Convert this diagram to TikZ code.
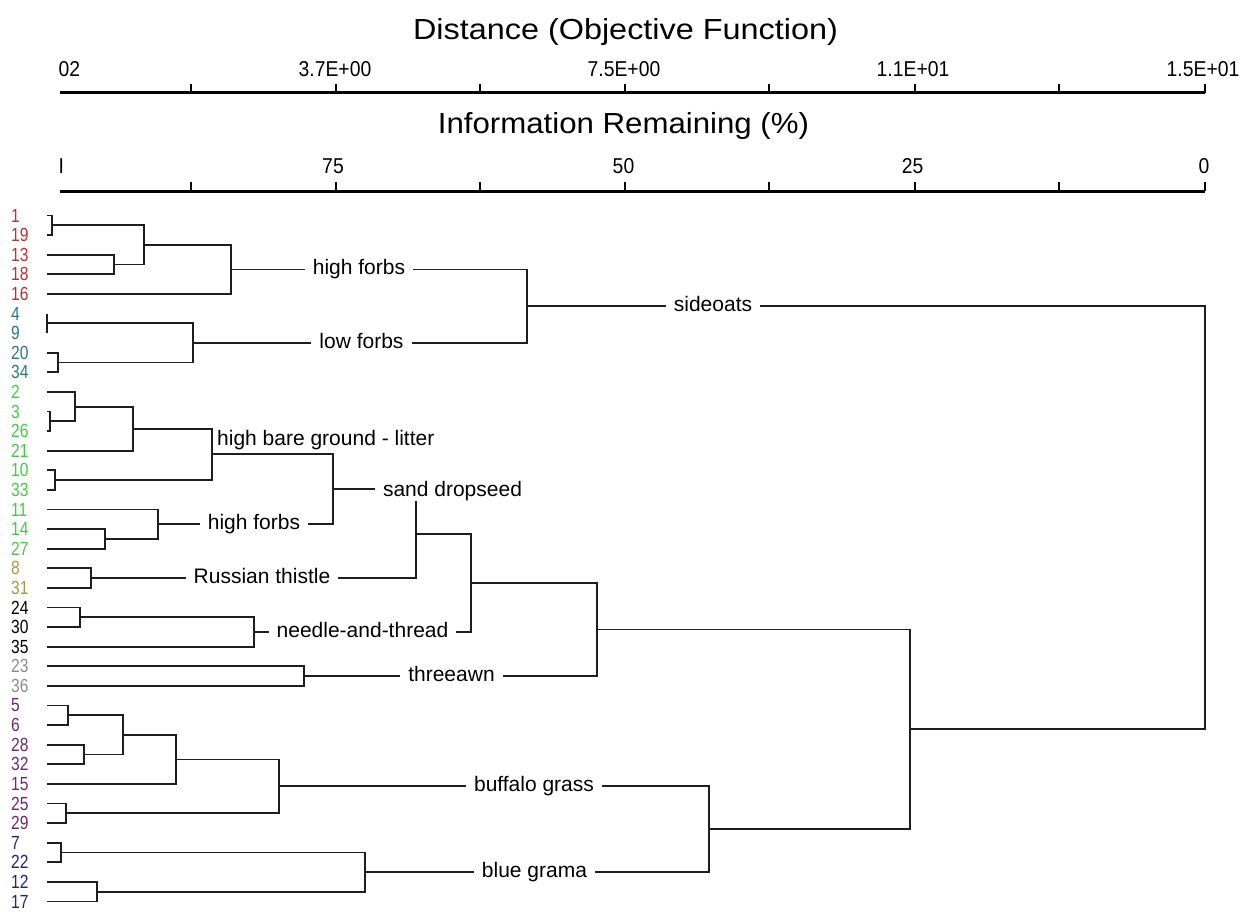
\documentclass[tikz,border=0pt]{standalone}
\usepackage{fontspec}
\setmainfont{Liberation Sans}
\newfontfamily\titleA[FakeStretch=1.117]{Liberation Sans}
\newfontfamily\titleB[FakeStretch=1.076]{Liberation Sans}
\newfontfamily\axfont[FakeStretch=0.9]{Liberation Sans}
\newfontfamily\leaffont[FakeStretch=0.82]{Liberation Sans}
\usetikzlibrary{calc}
\definecolor{redc}{RGB}{180,50,50}
\definecolor{tealc}{RGB}{40,120,130}
\definecolor{greenc}{RGB}{70,200,70}
\definecolor{olivec}{RGB}{170,150,70}
\definecolor{greyc}{RGB}{140,140,140}
\definecolor{purplec}{RGB}{110,40,110}
\definecolor{navyc}{RGB}{35,35,120}
\definecolor{linec}{RGB}{30,30,30}
\tikzset{
  br/.style={line width=1.8pt, draw=linec},
  axisline/.style={line width=3pt, draw=black},
  axtick/.style={line width=2.5pt, draw=black},
  grp/.style={fill=white, inner xsep=8pt, inner ysep=0pt, text height=15pt, text depth=4.5pt, font=\fontsize{21}{25}\selectfont, text=black},
  grpplain/.style={inner sep=0pt, font=\fontsize{21}{25}\selectfont, text=black},
  leaflab/.style={anchor=west, inner sep=0pt, font=\leaffont\fontsize{19}{20}\selectfont},
  axlab/.style={anchor=base, inner sep=0pt, font=\axfont\fontsize{21.5}{24}\selectfont},
}
\newcommand{\mergeAt}[4]{%
  \coordinate (tmp) at ($(#3)!0.5!(#4)$);
  \coordinate (#1) at (#2,0 |- tmp);
  \draw[br] (#3) -| (#1) |- (#4);}
\begin{document}
\begin{tikzpicture}[x=1pt,y=-1pt]
\useasboundingbox (0,0) rectangle (1249,912);
% titles
\node[anchor=base, inner sep=0pt, font=\titleA\fontsize{29}{32}\selectfont] (t1) at (625.5,40) {Distance (Objective Function)};
\node[anchor=base, inner sep=0pt, font=\titleB\fontsize{29}{32}\selectfont] (t2) at (623.5,134) {Information Remaining (\%)};
% axes
\draw[axisline] (60,93) -- (1205,93);
\draw[axisline] (60,191) -- (1205,191);
\foreach \x in {191,336,480,625,769,915,1059,1205}{
  \draw[axtick] (\x,93) -- (\x,84);
  \draw[axtick] (\x,191) -- (\x,182);
}
\node[axlab, anchor=base west] (a0) at (58.5,77) {02};
\node[axlab] (a1) at (335,77) {3.7E+00};
\node[axlab] (a2) at (624,77) {7.5E+00};
\node[axlab] (a3) at (913,77) {1.1E+01};
\node[axlab] (a4) at (1203,77) {1.5E+01};
\node[axlab, anchor=base west] (b0) at (58.5,174) {I};
\node[axlab] (b1) at (333,174) {75};
\node[axlab] (b2) at (623.5,174) {50};
\node[axlab] (b3) at (912.5,174) {25};
\node[axlab] (b4) at (1204,174) {0};
% leaves
\foreach \lab/\col [count=\i] in {1/redc,19/redc,13/redc,18/redc,16/redc,4/tealc,9/tealc,20/tealc,34/tealc,2/greenc,3/greenc,26/greenc,21/greenc,10/greenc,33/greenc,11/greenc,14/greenc,27/greenc,8/olivec,31/olivec,24/black,30/black,35/black,23/greyc,36/greyc,5/purplec,6/purplec,28/purplec,32/purplec,15/purplec,25/purplec,29/purplec,7/navyc,22/navyc,12/navyc,17/navyc}{
  \pgfmathsetmacro{\yy}{215.5+(\i-1)*19.6}
  \node[leaflab, text=\col] (L\lab) at (11,\yy) {\lab};
  \coordinate (P\lab) at (47,\yy);
}
% tree
\mergeAt{m1}{52}{P1}{P19}
\mergeAt{m2}{114}{P13}{P18}
\mergeAt{m3}{144}{m1}{m2}
\mergeAt{m4}{231}{m3}{P16}
\mergeAt{m5}{47}{P4}{P9}
\mergeAt{m6}{58}{P20}{P34}
\mergeAt{m7}{193}{m5}{m6}
\mergeAt{m8}{527}{m4}{m7}
\mergeAt{g1}{50}{P3}{P26}
\mergeAt{g2}{75}{P2}{g1}
\mergeAt{g3}{133}{g2}{P21}
\mergeAt{g4}{55}{P10}{P33}
\mergeAt{g5}{212}{g3}{g4}
\mergeAt{g6}{105}{P14}{P27}
\mergeAt{g7}{158}{P11}{g6}
\mergeAt{g8}{333}{g5}{g7}
\mergeAt{r1}{91}{P8}{P31}
\mergeAt{g9}{416}{g8}{r1}
\mergeAt{n1}{80}{P24}{P30}
\mergeAt{n2}{254}{n1}{P35}
\mergeAt{g10}{471}{g9}{n2}
\mergeAt{t1m}{304}{P23}{P36}
\mergeAt{g11}{597}{g10}{t1m}
\mergeAt{b1}{68}{P5}{P6}
\mergeAt{b2}{84}{P28}{P32}
\mergeAt{b3}{123}{b1}{b2}
\mergeAt{b4}{176}{b3}{P15}
\mergeAt{b5}{66}{P25}{P29}
\mergeAt{b6}{279}{b4}{b5}
\mergeAt{c1}{61}{P7}{P22}
\mergeAt{c2}{97}{P12}{P17}
\mergeAt{c3}{365}{c1}{c2}
\mergeAt{b7}{709}{b6}{c3}
\mergeAt{g12}{910}{g11}{b7}
\mergeAt{root}{1205}{m8}{g12}
% group labels
\node[grp] (hf1) at (m4 -| 359,0) {high forbs};
\node[grp] (lf) at (m7 -| 361.5,0) {low forbs};
\node[grp] (so) at (m8 -| 713,0) {sideoats};
\node[grpplain, anchor=base west] (hbg) at (217,445) {high bare ground - litter};
\node[grp] (hf2) at (g7 -| 254,0) {high forbs};
\node[grp] (sd) at (452.5,491.5) {sand dropseed};
\node[grp] (rt) at (r1 -| 262,0) {Russian thistle};
\node[grp] (nt) at (n2 -| 362.5,0) {needle-and-thread};
\node[grp] (ta) at (t1m -| 451.5,0) {threeawn};
\node[grp] (bg) at (b6 -| 534,0) {buffalo grass};
\node[grp] (bl) at (c3 -| 534.5,0) {blue grama};
\end{tikzpicture}
\end{document}
